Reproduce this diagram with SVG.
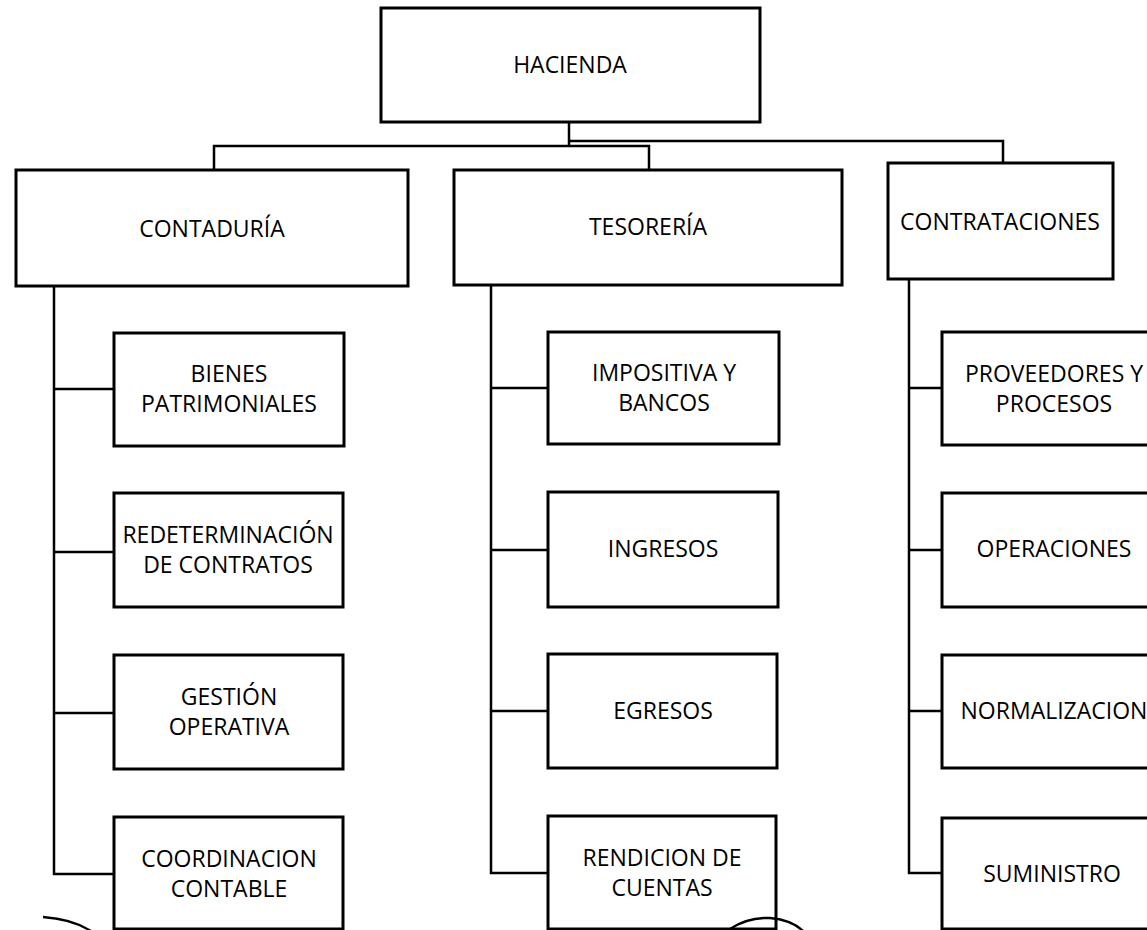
<svg xmlns="http://www.w3.org/2000/svg" width="1147" height="930" viewBox="0 0 1147 930">
<style>
.box{fill:#fff;stroke:#000;stroke-width:3}
.ln{fill:none;stroke:#000;stroke-width:2.5}
.arc{fill:none;stroke:#000;stroke-width:2.5}
text{font-family:"Open Sans","Noto Sans","Liberation Sans",sans-serif;font-size:23px;fill:#000;text-anchor:middle}
</style>
<rect width="1147" height="930" fill="#fff"/>
<g id="connectors">
<path class="ln" d="M569,122 V146"/>
<path class="ln" d="M569,141 H1003 V163"/>
<path class="ln" d="M214,170 V146 H649 V170"/>
<path class="ln" d="M54,286 V874 H114"/>
<path class="ln" d="M54,389 H114 M54,552 H114 M54,713 H114"/>
<path class="ln" d="M491,285 V873 H548"/>
<path class="ln" d="M491,388 H548 M491,550 H548 M491,711 H548"/>
<path class="ln" d="M909,279 V873 H942"/>
<path class="ln" d="M909,388 H942 M909,550 H942 M909,711 H942"/>
</g>
<g id="hacienda"><rect class="box" x="381" y="8" width="379" height="114"/><text x="570" y="73">HACIENDA</text></g>
<g id="contaduria"><rect class="box" x="16" y="170" width="392" height="116"/><text x="212" y="237">CONTADURÍA</text></g>
<g id="tesoreria"><rect class="box" x="454" y="170" width="388" height="115"/><text x="648" y="235">TESORERÍA</text></g>
<g id="contrataciones"><rect class="box" x="888" y="163" width="225" height="116"/><text x="1000" y="230">CONTRATACIONES</text></g>

<g id="bienes"><rect class="box" x="114" y="333" width="230" height="113"/><text x="229" y="382">BIENES</text><text x="229" y="412">PATRIMONIALES</text></g>
<g id="redeterminacion"><rect class="box" x="114" y="493" width="229" height="114"/><text x="228" y="543">REDETERMINACIÓN</text><text x="228" y="573">DE CONTRATOS</text></g>
<g id="gestion"><rect class="box" x="114" y="655" width="229" height="114"/><text x="229" y="705">GESTIÓN</text><text x="229" y="735">OPERATIVA</text></g>
<g id="coordinacion"><rect class="box" x="114" y="817" width="229" height="112"/><text x="229" y="867">COORDINACION</text><text x="229" y="897">CONTABLE</text></g>

<g id="impositiva"><rect class="box" x="548" y="332" width="231" height="112"/><text x="664" y="381">IMPOSITIVA Y</text><text x="664" y="411">BANCOS</text></g>
<g id="ingresos"><rect class="box" x="548" y="492" width="230" height="115"/><text x="663" y="557">INGRESOS</text></g>
<g id="egresos"><rect class="box" x="548" y="654" width="229" height="114"/><text x="663" y="719">EGRESOS</text></g>
<g id="rendicion"><rect class="box" x="548" y="816" width="228" height="113"/><text x="662" y="866">RENDICION DE</text><text x="662" y="896">CUENTAS</text></g>

<g id="proveedores"><rect class="box" x="942" y="332" width="224" height="113"/><text x="1054" y="382">PROVEEDORES Y</text><text x="1054" y="412">PROCESOS</text></g>
<g id="operaciones"><rect class="box" x="942" y="493" width="224" height="114"/><text x="1054" y="557">OPERACIONES</text></g>
<g id="normalizacion"><rect class="box" x="942" y="655" width="224" height="113"/><text x="1054" y="719">NORMALIZACION</text></g>
<g id="suministro"><rect class="box" x="942" y="818" width="224" height="111"/><text x="1052" y="882">SUMINISTRO</text></g>

<path class="arc" d="M43,917 Q72,919 91,931"/>
<path class="arc" d="M730,929 Q748,917 770,918 Q792,920 803,931"/>
</svg>
